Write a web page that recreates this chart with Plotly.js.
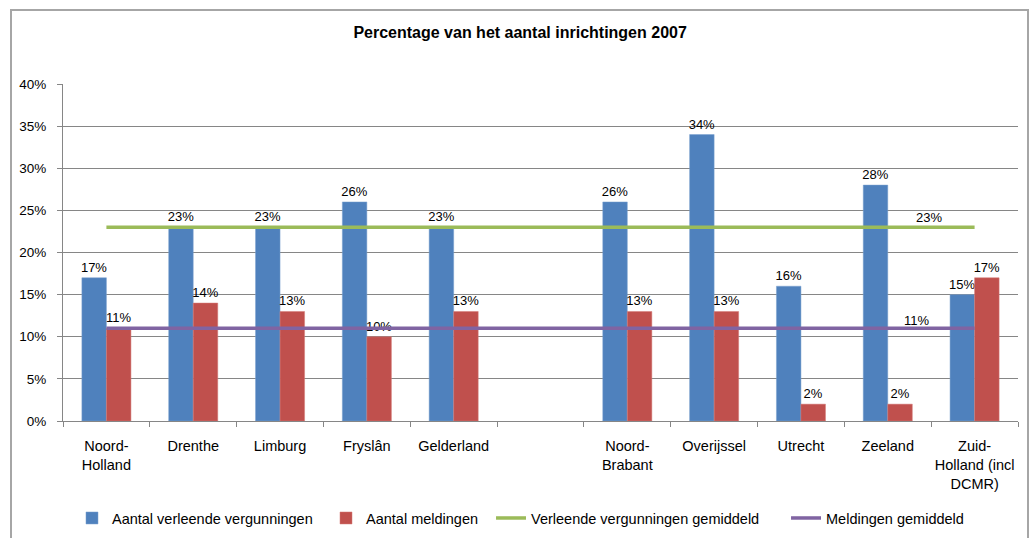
<!DOCTYPE html>
<html>
<head>
<meta charset="utf-8">
<script src="https://cdn.plot.ly/plotly-3.0.1.min.js"></script>
<style>
  html, body { margin: 0; padding: 0; background: #fff; }
  #wrap { position: relative; width: 1034px; height: 538px; overflow: hidden; }
  #chart { width: 1034px; height: 538px; }
  #frame { position: absolute; left: 10px; top: 9px; width: 1019px; height: 540px;
           border: 2px solid #a6a6a6; pointer-events: none; box-sizing: border-box; }
</style>
</head>
<body>
<div id="wrap">
  <div id="chart"></div>
  <div id="frame"></div>
</div>
<script>
const categories = ["Noord-<br>Holland", "Drenthe", "Limburg", "Fryslân", "Gelderland", " ",
  "Noord-<br>Brabant", "Overijssel", "Utrecht", "Zeeland", "Zuid-<br>Holland (incl<br>DCMR)"];
const vergunningen = [17, 23, 23, 26, 23, null, 26, 34, 16, 28, 15];
const meldingen = [11, 14, 13, 10, 13, null, 13, 13, 2, 2, 17];
const vergunningenGemiddeld = [23, 23, 23, 23, 23, 23, 23, 23, 23, 23, 23];
const meldingenGemiddeld = [11, 11, 11, 11, 11, 11, 11, 11, 11, 11, 11];
const yTicks = [0, 5, 10, 15, 20, 25, 30, 35, 40];

const font = "Liberation Sans, Arial, sans-serif";

const traces = [
  {
    type: "bar", name: "Aantal verleende vergunningen", x: categories, y: vergunningen,
    legend: "legend",
    marker: { color: "#4F81BD", line: { color: "#7aa0cf", width: 0.5 } },
    text: vergunningen.map(v => v == null ? "" : v + "%"),
    textposition: "outside", cliponaxis: false, constraintext: "none",
    textfont: { family: font, size: 13, color: "#000" },
    hoverinfo: "none"
  },
  {
    type: "bar", name: "Aantal meldingen", x: categories, y: meldingen,
    legend: "legend2",
    marker: { color: "#C0504D", line: { color: "#d57a77", width: 0.5 } },
    text: meldingen.map(v => v == null ? "" : v + "%"),
    textposition: "outside", cliponaxis: false, constraintext: "none",
    textfont: { family: font, size: 13, color: "#000" },
    hoverinfo: "none"
  },
  {
    type: "scatter", mode: "lines", name: "Verleende vergunningen gemiddeld",
    legend: "legend3",
    x: categories, y: vergunningenGemiddeld,
    line: { color: "#9BBB59", width: 3.5 }, hoverinfo: "none"
  },
  {
    type: "scatter", mode: "lines", name: "Meldingen gemiddeld",
    legend: "legend4",
    x: categories, y: meldingenGemiddeld,
    line: { color: "#8064A2", width: 3.5 }, hoverinfo: "none"
  }
];

const legendBase = {
  orientation: "h", xanchor: "left", y: -0.288, yanchor: "middle",
  font: { family: font, size: 14.5, color: "#000" }, itemwidth: 30,
  bgcolor: "rgba(0,0,0,0)", borderwidth: 0
};

const layout = {
  width: 1034, height: 538,
  margin: { l: 63, r: 16, t: 84, b: 117, autoexpand: false },
  paper_bgcolor: "#fff", plot_bgcolor: "#fff",
  font: { family: font, size: 14, color: "#000" },
  title: {
    text: "<b>Percentage van het aantal inrichtingen 2007</b>",
    font: { family: font, size: 16, color: "#000" },
    x: 0.503, xanchor: "center", y: 0.94, yanchor: "middle"
  },
  barmode: "group", bargap: 0.435, bargroupgap: 0,
  showlegend: true,
  legend: Object.assign({}, legendBase, { x: 0.0094 }),
  legend2: Object.assign({}, legendBase, { x: 0.2754 }),
  legend3: Object.assign({}, legendBase, { x: 0.4482 }),
  legend4: Object.assign({}, legendBase, { x: 0.7571 }),
  xaxis: {
    type: "category", tickson: "boundaries", ticks: "outside", ticklen: 5,
    tickcolor: "#868686", showline: true, linecolor: "#868686", linewidth: 1,
    showgrid: false, tickfont: { family: font, size: 14.5 }, fixedrange: true,
    tickangle: 0, ticklabelstandoff: 12, automargin: false
  },
  yaxis: {
    range: [0, 40], tickvals: yTicks, ticktext: yTicks.map(v => v + "%"),
    ticks: "outside", ticklen: 5, tickcolor: "#868686",
    showline: true, linecolor: "#868686", linewidth: 1,
    showgrid: true, gridcolor: "#868686", gridwidth: 1, zeroline: false,
    tickfont: { family: font, size: 13.5 }, fixedrange: true,
    ticklabelstandoff: 8, automargin: false
  },
  annotations: [
    { x: "Zeeland", y: vergunningenGemiddeld[9], xref: "x", yref: "y", text: "23%",
      showarrow: false, xshift: 41, yshift: 10, font: { family: font, size: 13 } },
    { x: "Zeeland", y: meldingenGemiddeld[9], xref: "x", yref: "y", text: "11%",
      showarrow: false, xshift: 29, yshift: 8, font: { family: font, size: 13 } }
  ]
};

Plotly.newPlot("chart", traces, layout, { staticPlot: true, displayModeBar: false });
</script>
</body>
</html>
